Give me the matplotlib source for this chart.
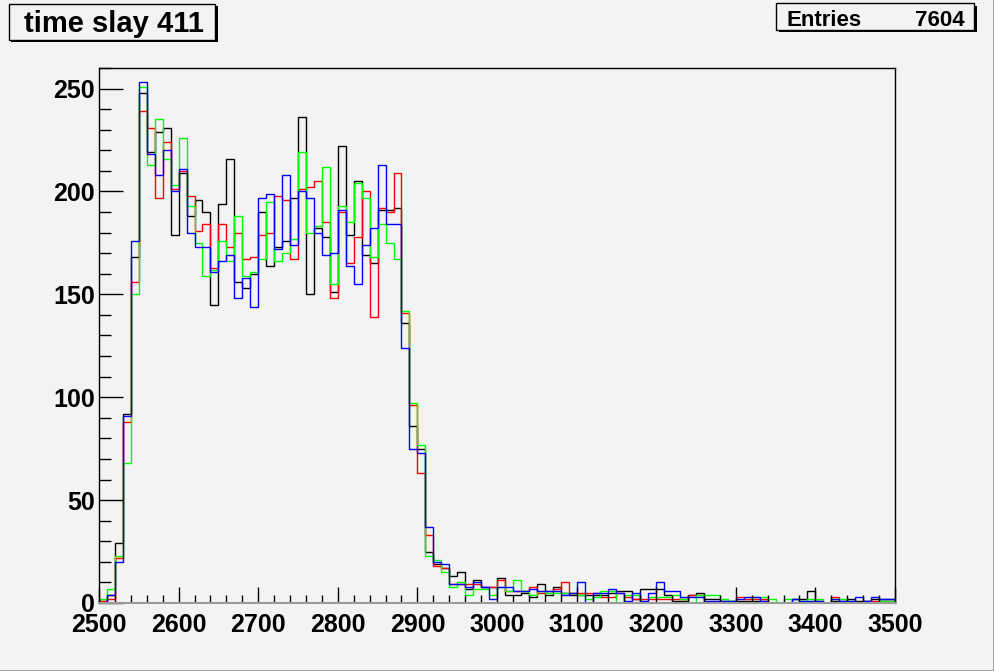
import numpy as np
import matplotlib
matplotlib.use('Agg')
import matplotlib.pyplot as plt
from matplotlib.patches import Rectangle
from matplotlib.ticker import MultipleLocator

# 100 bins de 10 entre 2500 y 3500
edges = np.arange(2500, 3501, 10)

red = [
    1, 2, 22, 88, 156, 239, 231, 197, 224, 201,
    210, 198, 181, 184, 163, 184, 173, 180, 167, 168,
    179, 180, 198, 196, 167, 201, 202, 205, 185, 148,
    190, 165, 178, 200, 139, 192, 190, 209, 141, 96,
    63, 33, 18, 17, 9, 9, 9, 9, 8, 8,
    11, 6, 6, 6, 8, 5, 6, 7, 10, 5,
    5, 5, 5, 3, 3, 5, 3, 2, 2, 2,
    2, 2, 2, 2, 4, 4, 0, 0, 0, 0,
    3, 2, 2, 2, 0, 0, 0, 0, 0, 0,
    0, 0, 3, 0, 0, 0, 1, 1, 1, 1,
]
green = [
    2, 7, 23, 68, 150, 251, 213, 235, 216, 203,
    226, 193, 175, 159, 162, 176, 166, 188, 159, 161,
    167, 195, 166, 170, 177, 219, 180, 183, 212, 155,
    193, 185, 204, 197, 168, 184, 175, 167, 142, 97,
    77, 23, 21, 15, 8, 10, 4, 7, 7, 4,
    8, 6, 11, 6, 4, 6, 5, 5, 5, 5,
    4, 2, 3, 6, 6, 0, 4, 4, 0, 3,
    3, 3, 4, 2, 0, 4, 4, 4, 2, 1,
    0, 0, 3, 3, 2, 0, 2, 2, 1, 2,
    2, 0, 2, 2, 1, 0, 0, 0, 1, 1,
]
blue = [
    0, 4, 20, 91, 176, 253, 218, 208, 220, 200,
    211, 180, 173, 173, 161, 166, 169, 148, 158, 144,
    197, 199, 172, 208, 174, 200, 197, 180, 169, 170,
    191, 164, 155, 174, 182, 213, 184, 184, 124, 75,
    73, 37, 20, 19, 9, 9, 8, 10, 8, 2,
    8, 8, 6, 6, 7, 6, 6, 6, 4, 5,
    10, 0, 5, 5, 7, 5, 1, 5, 1, 5,
    10, 6, 6, 3, 3, 3, 1, 1, 1, 1,
    2, 3, 3, 1, 0, 0, 0, 2, 1, 1,
    1, 0, 2, 1, 1, 3, 1, 3, 2, 2,
]
black = [
    1, 4, 29, 92, 168, 248, 219, 229, 231, 179,
    209, 188, 196, 190, 145, 194, 216, 156, 153, 160,
    190, 164, 173, 176, 197, 236, 150, 182, 178, 151,
    222, 179, 205, 169, 165, 191, 191, 192, 136, 86,
    75, 25, 19, 17, 13, 15, 7, 11, 8, 8,
    12, 4, 4, 5, 3, 9, 4, 8, 5, 4,
    4, 4, 4, 4, 5, 6, 6, 2, 7, 7,
    7, 4, 1, 1, 4, 5, 2, 2, 1, 1,
    1, 1, 1, 1, 0, 0, 0, 2, 2, 6,
    1, 0, 1, 1, 2, 1, 1, 2, 2, 2,
]

title = 'time slay 411'
entries = 7604

bg = '#f3f3f3'
W, H = 995, 671
plt.rcParams['font.family'] = ['Liberation Sans', 'DejaVu Sans']
plt.rcParams['font.weight'] = 'bold'

fig = plt.figure(figsize=(W / 100, H / 100), dpi=100, facecolor=bg)
ax = fig.add_axes([99 / W, 1 - 603 / H, 796 / W, 535 / H])
ax.set_facecolor(bg)

# orden de dibujo: negro abajo, azul arriba
for vals, col in [(black, 'black'), (red, '#ff0000'), (green, '#00ff00'), (blue, '#0000ff')]:
    ax.stairs(vals, edges, color=col, lw=1.0)

ax.set_xlim(2500, 3500)
ax.set_ylim(0, 260)
ax.xaxis.set_major_locator(MultipleLocator(100))
ax.xaxis.set_minor_locator(MultipleLocator(20))
ax.yaxis.set_major_locator(MultipleLocator(50))
ax.yaxis.set_minor_locator(MultipleLocator(10))
ax.tick_params(axis='both', which='both', direction='in', top=False, right=False,
               width=1.0, labelsize=18)
ax.tick_params(axis='y', which='major', length=17, pad=3)
ax.tick_params(axis='y', which='minor', length=8.5)
ax.tick_params(axis='x', which='major', length=11.5, pad=7.5)
ax.tick_params(axis='x', which='minor', length=5.8)
for lab in ax.get_xticklabels() + ax.get_yticklabels():
    lab.set_fontweight('bold')
for s in ax.spines.values():
    s.set_linewidth(1.0)
ax.spines['bottom'].set_color('#9a9a9a')
ax.spines['bottom'].set_linewidth(1.5)


def box(x0, y0, x1, y1, shadow=2.5):
    # caja estilo ROOT con sombra, coordenadas en pixeles
    fig.add_artist(Rectangle(((x0 + shadow) / W, 1 - (y1 + shadow) / H), (x1 - x0) / W, (y1 - y0) / H,
                             transform=fig.transFigure, facecolor='black', edgecolor='black', lw=0))
    fig.add_artist(Rectangle((x0 / W, 1 - y1 / H), (x1 - x0) / W, (y1 - y0) / H,
                             transform=fig.transFigure, facecolor=bg, edgecolor='black', lw=1.0))


box(9, 4, 215.5, 39.5)
fig.text(113.5 / W, 1 - 31.7 / H, title, ha='center', va='baseline', fontsize=21, fontweight='bold')

box(776.5, 3.5, 974.5, 29.5)
fig.text(787 / W, 1 - 25.5 / H, 'Entries', ha='left', va='baseline', fontsize=16, fontweight='bold')
fig.text(965 / W, 1 - 25.5 / H, str(entries), ha='right', va='baseline', fontsize=16, fontweight='bold')

# borde del canvas
fig.add_artist(plt.Line2D([0, 1], [0.5 / H, 0.5 / H], transform=fig.transFigure, color='#9a9a9a', lw=2))
fig.add_artist(plt.Line2D([1 - 1 / W, 1 - 1 / W], [0, 1], transform=fig.transFigure, color='#9a9a9a', lw=2))

fig.savefig('out.png', dpi=100, facecolor=bg)
